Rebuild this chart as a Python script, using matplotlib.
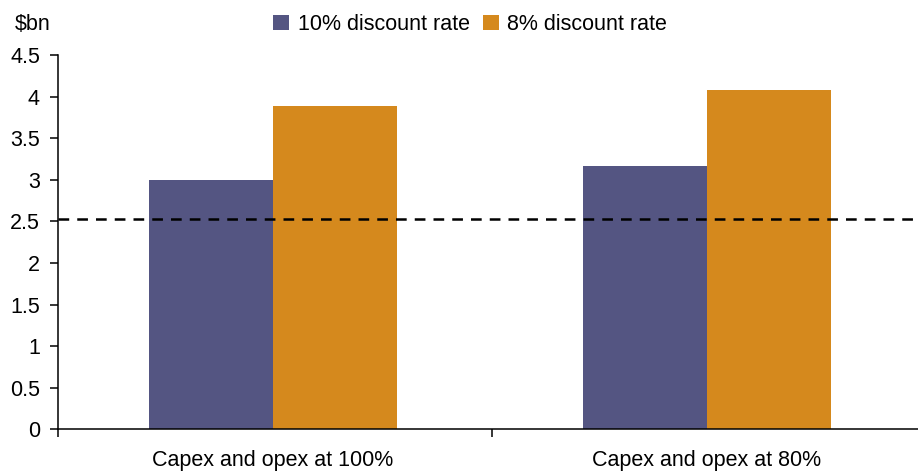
import numpy as np
import matplotlib
matplotlib.use('Agg')
import matplotlib.pyplot as plt

plt.rcParams['font.family'] = ['Liberation Sans', 'DejaVu Sans']
plt.rcParams['lines.scale_dashes'] = False

# NPV by scenario, $bn
scenarios = ['Capex and opex at 100%', 'Capex and opex at 80%']
rate_10 = [3.00, 3.17]
rate_8 = [3.89, 4.08]
threshold = 2.53
series_names = ['10% discount rate', '8% discount rate']

purple = '#545582'
orange = '#D5891D'

fig = plt.figure(figsize=(9.18, 4.72), dpi=100)
ax = fig.add_axes([0.0632, 0.0905, 0.9455, 0.7924])

x = np.arange(len(scenarios)) - 0.005
w = 0.286
ax.bar(x - w/2, rate_10, w, color=purple, label=series_names[0])
ax.bar(x + w/2, rate_8, w, color=orange, label=series_names[1])

# threshold line across the plot
ax.axhline(threshold, color='black', lw=1.8, dashes=(7.7, 5.8), zorder=3)

ax.set_xlim(-0.5, 1.5)
ax.set_ylim(0, 4.5)
ax.set_yticks(np.arange(0, 4.51, 0.5))
ax.set_yticklabels(['0', '0.5', '1', '1.5', '2', '2.5', '3', '3.5', '4', '4.5'])

# group boundary ticks, labels centred under each group
ax.set_xticks([-0.5, 0.5, 1.5])
ax.set_xticklabels([])
ax.set_xticks(x, minor=True)
ax.set_xticklabels(scenarios, minor=True)
ax.tick_params(axis='x', which='minor', length=0, pad=15, labelsize=15.5)
ax.tick_params(axis='x', which='major', length=6, width=1.1, direction='out')
ax.tick_params(axis='y', length=6, width=1.1, direction='out', pad=7, labelsize=15.5)

for s in ['top', 'right']:
    ax.spines[s].set_visible(False)
for s in ['left', 'bottom']:
    ax.spines[s].set_linewidth(1.1)

fig.text(0.016, 0.948, '$bn', fontsize=15.5, va='center', ha='left')

ax.legend(loc='center', bbox_to_anchor=(0.512, 0.948), bbox_transform=fig.transFigure,
          ncol=2, frameon=False, fontsize=15.5, handlelength=0.75, handleheight=0.75,
          handletextpad=0.4, columnspacing=0.6)

fig.savefig('out.png', dpi=100)
